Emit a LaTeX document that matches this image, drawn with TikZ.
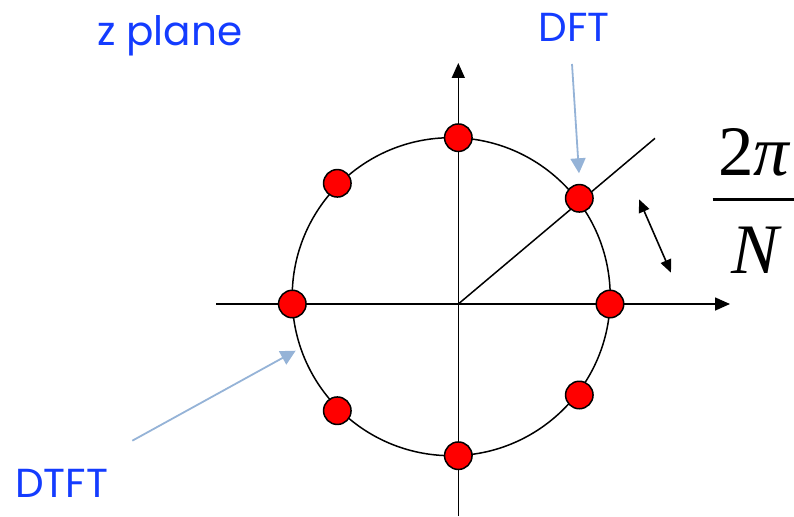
\documentclass[tikz,border=0pt]{standalone}
\usepackage{fontspec}
\setmainfont{Liberation Serif}
\newfontfamily\labelfont{Poppins}
\usetikzlibrary{arrows.meta}
\definecolor{lblue}{RGB}{20,60,255}
\definecolor{pblue}{RGB}{149,179,215}
\tikzset{
  axis/.style={line width=1.6pt,-{Triangle[length=15pt,width=13pt]}},
  dot/.style={circle,draw=black,line width=1.5pt,fill=red,minimum size=27.5pt,inner sep=0pt},
  pointer/.style={pblue,line width=1.8pt,-{Triangle[length=15pt,width=15pt]}},
  lbl/.style={text=lblue,font=\labelfont\fontsize{40.5}{48}\selectfont,inner sep=0pt},
  dbl/.style={line width=1.6pt,{Triangle[length=13pt,width=11pt]}-{Triangle[length=13pt,width=11pt]}}
}
\begin{document}
\begin{tikzpicture}[x=1pt,y=-1pt]
\useasboundingbox (0,0) rectangle (794,516);
% axes
\coordinate (o) at (458.3,304);
\coordinate (xl) at (216,304);
\coordinate (xr) at (730,304);
\coordinate (yb) at (458.3,516);
\coordinate (yt) at (458.3,63);
\draw[axis] (xl) -- (xr);
\draw[axis] (yb) -- (yt);
% unit circle
\coordinate (cc) at (451.2,296.7);
\draw[line width=1.5pt] (cc) circle[radius=159pt];
% radial line
\coordinate (rend) at (655,138.3);
\draw[line width=1.5pt] (o) -- (rend);
% samples
\node[dot] (d0) at (610,304) {};
\node[dot] (d1) at (579.3,198.3) {};
\node[dot] (d2) at (458.3,137.7) {};
\node[dot] (d3) at (337.3,183.3) {};
\node[dot] (d4) at (292.3,304) {};
\node[dot] (d5) at (337.3,410.7) {};
\node[dot] (d6) at (458.3,455.7) {};
\node[dot] (d7) at (579.3,395) {};
% double arrow
\coordinate (da) at (639,199.3);
\coordinate (db) at (671,272.7);
\draw[dbl] (da) -- (db);
% fraction
\node[anchor=base west,inner sep=0pt,font=\fontsize{71}{80}\selectfont] (num) at (718,175) {2\textit{π}};
\draw[line width=3pt] (712.7,199.3) coordinate (fbl) -- (794,199.3) coordinate (fbr);
\node[anchor=base west,inner sep=0pt,font=\fontsize{71}{80}\selectfont] (den) at (731,273) {\textit{N}};
% labels
\node[lbl,anchor=base west] (zp) at (97,45.7) {z plane};
\node[lbl,anchor=base west] (dft) at (538.3,41.7) {DFT};
\node[lbl,anchor=base west] (dtft) at (15,497.7) {DTFT};
% pointers
\coordinate (dfts) at (572,64);
\coordinate (dftt) at (579,173.3);
\draw[pointer] (dfts) -- (dftt);
\coordinate (dtfts) at (132.3,440.7);
\coordinate (dtftt) at (295.7,350.7);
\draw[pointer] (dtfts) -- (dtftt);
\end{tikzpicture}
\end{document}
